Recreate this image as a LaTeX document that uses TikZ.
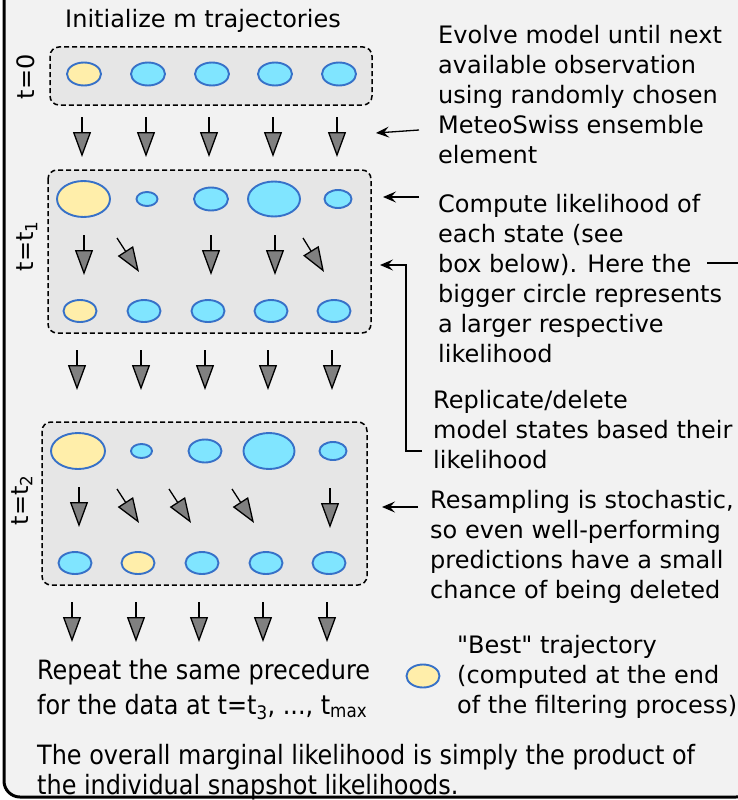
\documentclass[tikz,border=0pt]{standalone}
\usepackage{fontspec}
\setmainfont{DejaVu Sans}
\newfontfamily\plainfont{DejaVu Sans}
\newfontfamily\condfont{DejaVu Sans Condensed}
\usetikzlibrary{arrows.meta,shapes.geometric}

\definecolor{framebg}{HTML}{F2F2F2}
\definecolor{boxbg}{HTML}{E6E6E6}
\definecolor{cyanfill}{HTML}{80E5FF}
\definecolor{goldfill}{HTML}{FFEEAA}
\definecolor{rimblue}{HTML}{3771C8}
\definecolor{tipgray}{HTML}{808080}

\tikzset{
  st/.style 2 args={ellipse, draw=rimblue, line width=1.9pt, fill=cyanfill,
    inner sep=0pt, minimum width=#1pt, minimum height=#2pt},
  best/.style={fill=goldfill},
  stagebox/.style={draw=black, dashed, dash pattern=on 5pt off 3pt,
    line width=1.5pt, fill=boxbg, rounded corners=9pt},
  flow/.style={draw=black, line width=1.3pt,
    -{Triangle[width=18pt,length=25pt,fill=tipgray]}},
  conn/.style={draw=black, line width=1.3pt,
    -{Stealth[length=13pt,width=11pt,inset=5pt]}},
  % multi-line nodes are placed by the baseline of their last line
  txt/.style={align=left, inner sep=0pt, font=\fontsize{24}{30}\selectfont},
  ctxt/.style={align=left, inner sep=0pt, font=\condfont\fontsize{26.6}{35}\selectfont},
  ctxtb/.style={align=left, inner sep=0pt, font=\condfont\fontsize{26.6}{30}\selectfont},
  tlabel/.style={inner sep=0pt, rotate=90, font=\fontsize{24}{30}\selectfont},
}

\begin{document}
\begin{tikzpicture}[x=1pt,y=-1pt]
\useasboundingbox (0,0) rectangle (738,800);
\clip (0,0) rectangle (738,800);
\fill[white] (0,0) rectangle (738,800);

% outer panel
\draw[line width=3pt, fill=framebg, rounded corners=16pt] (4,-40) rectangle (752,797);

% title
\node[txt, anchor=base] (title) at (203,28) {Initialize m trajectories};

% ---------- stage t=0 ----------
\draw[stagebox] (50,47) rectangle (372,105);
\node[tlabel] (lab0) at (26,77) {t=0};
\node[st={34}{23}, best] (a1) at (84,74) {};
\node[st={34}{23}] (a2) at (148,74) {};
\node[st={34}{23}] (a3) at (212,74) {};
\node[st={34}{23}] (a4) at (275,74) {};
\node[st={34}{23}] (a5) at (339,74) {};

% propagation 0 -> 1
\foreach \x [count=\i] in {82,146,209,273,337}{
  \coordinate (p\i) at (\x,117);
  \coordinate (q\i) at (\x,157);
  \draw[flow] (p\i) -- (q\i);
}

% ---------- stage t=t1 ----------
\draw[stagebox] (48,170) rectangle (371,333);
\node[tlabel] (lab1) at (27,246) {t=t\textsubscript{1}};
\node[st={53}{36}, best] (b1) at (83.5,199) {};
\node[st={21}{14}] (b2) at (147,199) {};
\node[st={34}{23}] (b3) at (211,199) {};
\node[st={52}{35}] (b4) at (274,199) {};
\node[st={27}{18}] (b5) at (338,199) {};

\coordinate (r1s) at (84,235);  \coordinate (r1e) at (84,275);
\coordinate (r2s) at (117,238); \coordinate (r2e) at (139,272);
\coordinate (r3s) at (211,235); \coordinate (r3e) at (211,275);
\coordinate (r4s) at (275,235); \coordinate (r4e) at (275,275);
\coordinate (r5s) at (303,238); \coordinate (r5e) at (324,272);
\foreach \i in {1,...,5}{ \draw[flow] (r\i s) -- (r\i e); }

\node[st={33}{22}, best] (c1) at (80,311) {};
\node[st={33}{22}] (c2) at (144,311) {};
\node[st={33}{22}] (c3) at (208,311) {};
\node[st={33}{22}] (c4) at (271,311) {};
\node[st={33}{22}] (c5) at (334,311) {};

% propagation 1 -> 2
\foreach \x [count=\i] in {77,141,205,268,332}{
  \coordinate (u\i) at (\x,350);
  \coordinate (v\i) at (\x,390);
  \draw[flow] (u\i) -- (v\i);
}

% ---------- stage t=t2 ----------
\draw[stagebox] (42,422) rectangle (367,585);
\node[tlabel] (lab2) at (22,500) {t=t\textsubscript{2}};
\node[st={54}{36}, best] (d1) at (78,451) {};
\node[st={21}{14}] (d2) at (141.5,451) {};
\node[st={33}{23}] (d3) at (205,451) {};
\node[st={51}{36}] (d4) at (269,451) {};
\node[st={27}{18}] (d5) at (333,451) {};

\coordinate (s1s) at (79,487);  \coordinate (s1e) at (79,527);
\coordinate (s2s) at (117,489); \coordinate (s2e) at (139,523);
\coordinate (s3s) at (169,489); \coordinate (s3e) at (191,523);
\coordinate (s4s) at (232,489); \coordinate (s4e) at (254,523);
\coordinate (s5s) at (330,488); \coordinate (s5e) at (330,528);
\foreach \i in {1,...,5}{ \draw[flow] (s\i s) -- (s\i e); }

\node[st={33}{22}] (e1) at (75,563) {};
\node[st={33}{22}, best] (e2) at (138,563) {};
\node[st={33}{22}] (e3) at (202,563) {};
\node[st={33}{22}] (e4) at (266,563) {};
\node[st={33}{22}] (e5) at (329,563) {};

% propagation after t2
\foreach \x [count=\i] in {72,136,199,263,327}{
  \coordinate (w\i) at (\x,602);
  \coordinate (z\i) at (\x,642);
  \draw[flow] (w\i) -- (z\i);
}

% ---------- explanations ----------
\node[txt, anchor=base west] (evolve) at (438,163)
  {Evolve model until next\\available observation\\using randomly chosen\\MeteoSwiss ensemble\\element};
\coordinate (ev1) at (419,130);
\coordinate (ev2) at (376,133);
\draw[conn] (ev1) -- (ev2);

\node[txt, anchor=base west] (compute) at (438,362)
  {Compute likelihood of\\each state (see\\box below). Here the\\bigger circle represents\\a larger respective\\likelihood};
\coordinate (cp1) at (419,197);
\coordinate (cp2) at (383,197);
\draw[conn] (cp1) -- (cp2);
\coordinate (hr1) at (707,263);
\coordinate (hr2) at (745,263);
\draw[line width=1.3pt] (hr1) -- (hr2);

\node[txt, anchor=base west] (replicate) at (433,468)
  {Replicate/delete\\model states based their\\likelihood};
\coordinate (rp1) at (422,451);
\coordinate (rp2) at (406,265);
\coordinate (rp3) at (380,265);
\draw[conn] (rp1) -| (rp2) -- (rp3);

\node[txt, anchor=base west] (resample) at (430,598)
  {Resampling is stochastic,\\so even well-performing\\predictions have a small\\chance of being deleted};
\coordinate (rs1) at (418,507);
\coordinate (rs2) at (382,507);
\draw[conn] (rs1) -- (rs2);

% legend
\node[st={33}{23}, best] (key) at (423,676) {};
\node[txt, anchor=base west] (keytxt) at (457,713)
  {{\plainfont "Best"} trajectory\\(computed at the end\\of the filtering process)};

% closing notes
\node[ctxt, anchor=base west] (repeat) at (37,714)
  {Repeat the same precedure\\for the data at t=t\textsubscript{3}, ..., t\textsubscript{max}};
\node[ctxtb, anchor=base west] (overall) at (37,794)
  {The overall marginal likelihood is simply the product of\\the individual snapshot likelihoods.};
\end{tikzpicture}
\end{document}
